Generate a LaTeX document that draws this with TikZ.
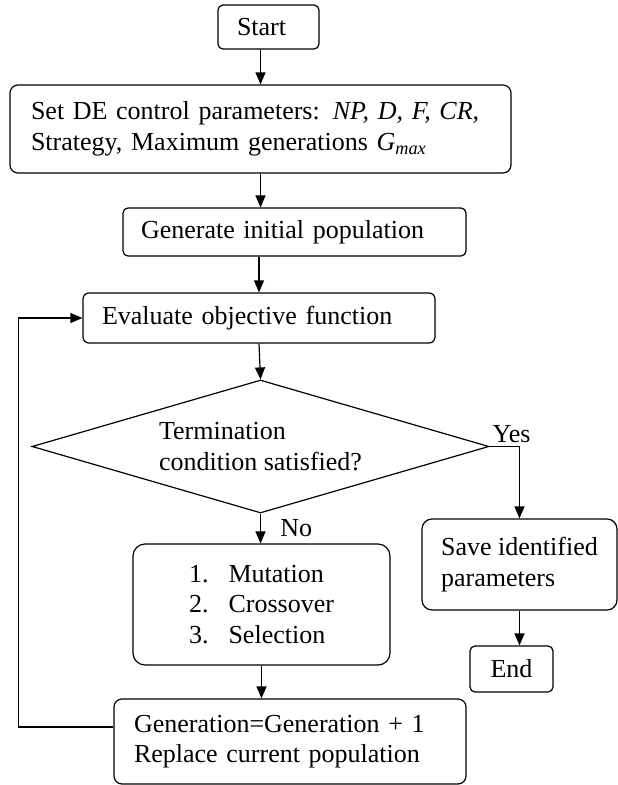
\documentclass[tikz,border=0pt]{standalone}
\usepackage{fontspec}
\setmainfont{Liberation Serif}
\usetikzlibrary{positioning,arrows.meta,shapes.geometric}
\begin{document}
\begin{tikzpicture}[x=1pt,y=1pt,font=\fontsize{26}{30.5}\selectfont]
   \tikzstyle{arrow} = [line width=1.2pt,->,>={Triangle[length=12pt,width=10pt]}]
   \tikzset{box/.style = {rectangle, draw, rounded corners=8pt, line width=1.2pt, align=left, inner ysep=4pt}, }
   \tikzset{term/.style = {box, rounded corners=5pt}, }
   \tikzset{decision/.style = {diamond, draw, line width=1.2pt, aspect=3.44, inner sep=2pt, align=left, minimum width=457pt, minimum height=133pt} }
   \useasboundingbox (0,0) rectangle (618,-785);

   \node[term, text width=63pt, inner xsep=19pt, minimum height=44pt] (start) at (268.5,-27) {Start};
   \node[box, text width=459pt, inner xsep=21pt, minimum height=88pt] (params) at (260.5,-129)
   {Set DE control parameters: \textit{NP, D, F, CR,}\\Strategy, Maximum generations \textit{G\textsubscript{max}}};
   \node[box, rounded corners=5pt, text width=307pt, inner xsep=18pt, minimum height=48pt] (init) at (294.5,-232) {Generate initial population};
   \node[box, rounded corners=6pt, text width=314pt, inner xsep=19pt, minimum height=50pt] (eval) at (259,-318) {Evaluate objective function};
   \node[decision] (test) at (260.5,-446.5) {Termination\\condition satisfied?};
   \node[box, rounded corners=12pt, minimum width=257pt, minimum height=121pt] (ops) at (261.5,-604.5)
   {1.\hspace{20pt}Mutation\\2.\hspace{20pt}Crossover\\3.\hspace{20pt}Selection};
   \node[box, text width=312pt, inner xsep=20pt, minimum height=85pt] (gen) at (290,-741.5)
   {Generation=Generation + 1\\Replace current population};
   \node[box, rounded corners=10pt, minimum width=195pt, minimum height=91pt] (save) at (519.5,-564.5) {Save identified\\parameters};
   \node[term, minimum width=83pt, minimum height=46pt] (fin) at (511.5,-669) {End};

   % main flow
   \draw[arrow] (start.south -| params.north) -- (params.north);
   \draw[arrow] (params.south) -- (params.south |- init.north);
   \draw[arrow] (init.south -| eval.north) -- (eval.north);
   \draw[arrow] (eval.south) -- (test.north);
   \draw[arrow] (test.south) -- node[right=16pt] {No} (test.south |- ops.north);
   \draw[arrow] (ops.south) -- (ops.south |- gen.north);

   % exit branch
   \draw[arrow] (test.east) -| node[pos=0.5, above, xshift=-8pt] {Yes} (save.north);
   \draw[arrow] (save.south) -- (save.south |- fin.north);

   % loop back
   \draw[arrow] ([yshift=14.5pt]gen.west) -- ++(-95,0) |- (eval.west);
\end{tikzpicture}
\end{document}
